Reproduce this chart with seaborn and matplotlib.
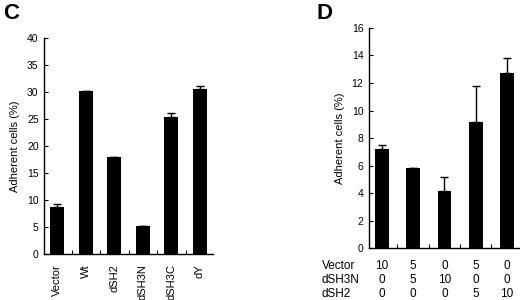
"""Adherent cells bar charts, panels C and D."""

import numpy as np
import pandas as pd
import seaborn as sns
import matplotlib.pyplot as plt
import matplotlib.transforms as mtransforms

# panel C
c_labels = ["Vector", "Wt", "dSH2", "dSH3N", "dSH3C", "dY"]
c_values = [8.8, 30.2, 18.0, 5.3, 25.4, 30.6]
c_errors = [0.6, 0.0, 0.0, 0.0, 0.8, 0.6]

# panel D
d_vector = [10, 5, 0, 5, 0]
d_dsh3n = [0, 5, 10, 0, 0]
d_dsh2 = [0, 0, 0, 5, 10]
d_values = [7.2, 5.8, 4.2, 9.2, 12.7]
d_errors = [0.3, 0.0, 1.0, 2.6, 1.1]

sns.set_style("ticks")
plt.rcParams["font.family"] = ["Liberation Sans", "DejaVu Sans"]
plt.rcParams["xtick.direction"] = "in"
plt.rcParams["ytick.direction"] = "in"
for key in ("text.color", "axes.labelcolor", "xtick.color", "ytick.color"):
    plt.rcParams[key] = "black"

fig = plt.figure(figsize=(5.2, 3.0), dpi=100)


def style_axis(ax, n):
    sns.despine(ax=ax)
    for s in ("left", "bottom"):
        ax.spines[s].set_linewidth(1.0)
        ax.spines[s].set_color("black")
    ax.tick_params(axis="y", labelsize=7.5, length=3, width=0.8, pad=4)
    ax.tick_params(axis="x", which="major", length=0)
    ax.set_xticks(np.arange(n - 1) + 0.5, minor=True)
    ax.tick_params(axis="x", which="minor", length=3, width=0.8)
    ax.set_ylabel("Adherent cells (%)", fontsize=8, labelpad=5)
    ax.set_xlabel("")


# ---- C ----
axc = fig.add_axes([0.085, 0.152, 0.325, 0.72])
dfc = pd.DataFrame({"label": c_labels, "value": c_values})
sns.barplot(data=dfc, x="label", y="value", color="black", width=0.49,
            errorbar=None, ax=axc, saturation=1, linewidth=0)
axc.errorbar(np.arange(len(c_values)), c_values,
             yerr=[np.zeros(len(c_errors)), c_errors],
             fmt="none", ecolor="black", elinewidth=1, capsize=3, capthick=1)
axc.set_ylim(0, 40)
axc.set_yticks(range(0, 41, 5))
axc.set_xlim(-0.46, 5.47)
style_axis(axc, len(c_labels))
axc.tick_params(axis="x", which="major", labelsize=8, labelrotation=90, pad=7)
fig.text(0.006, 0.99, "C", fontsize=16, fontweight="bold", va="top")

# ---- D ----
axd = fig.add_axes([0.7096, 0.172, 0.30, 0.735])
dfd = pd.DataFrame({"group": [str(i) for i in range(len(d_values))],
                    "value": d_values})
sns.barplot(data=dfd, x="group", y="value", color="black", width=0.44,
            errorbar=None, ax=axd, saturation=1, linewidth=0)
axd.errorbar(np.arange(len(d_values)), d_values,
             yerr=[np.zeros(len(d_errors)), d_errors],
             fmt="none", ecolor="black", elinewidth=1, capsize=3, capthick=1)
axd.set_ylim(0, 16)
axd.set_yticks(range(0, 17, 2))
axd.set_xlim(-0.41, 4.57)
style_axis(axd, len(d_values))
axd.set_xticklabels([])

trans = mtransforms.blended_transform_factory(axd.transData, fig.transFigure)
rows = [("Vector", d_vector), ("dSH3N", d_dsh3n), ("dSH2", d_dsh2)]
row_y = [1 - 265.7 / 300, 1 - 280 / 300, 1 - 294 / 300]
for (name, vals), yy in zip(rows, row_y):
    fig.text(322 / 520, yy, name, fontsize=8.5, va="center", ha="left")
    for i, v in enumerate(vals):
        axd.text(i, yy, str(v), transform=trans, fontsize=8.5,
                 va="center", ha="center")
fig.text(316 / 520, 0.99, "D", fontsize=16, fontweight="bold", va="top")

fig.savefig("out.png", dpi=100)
